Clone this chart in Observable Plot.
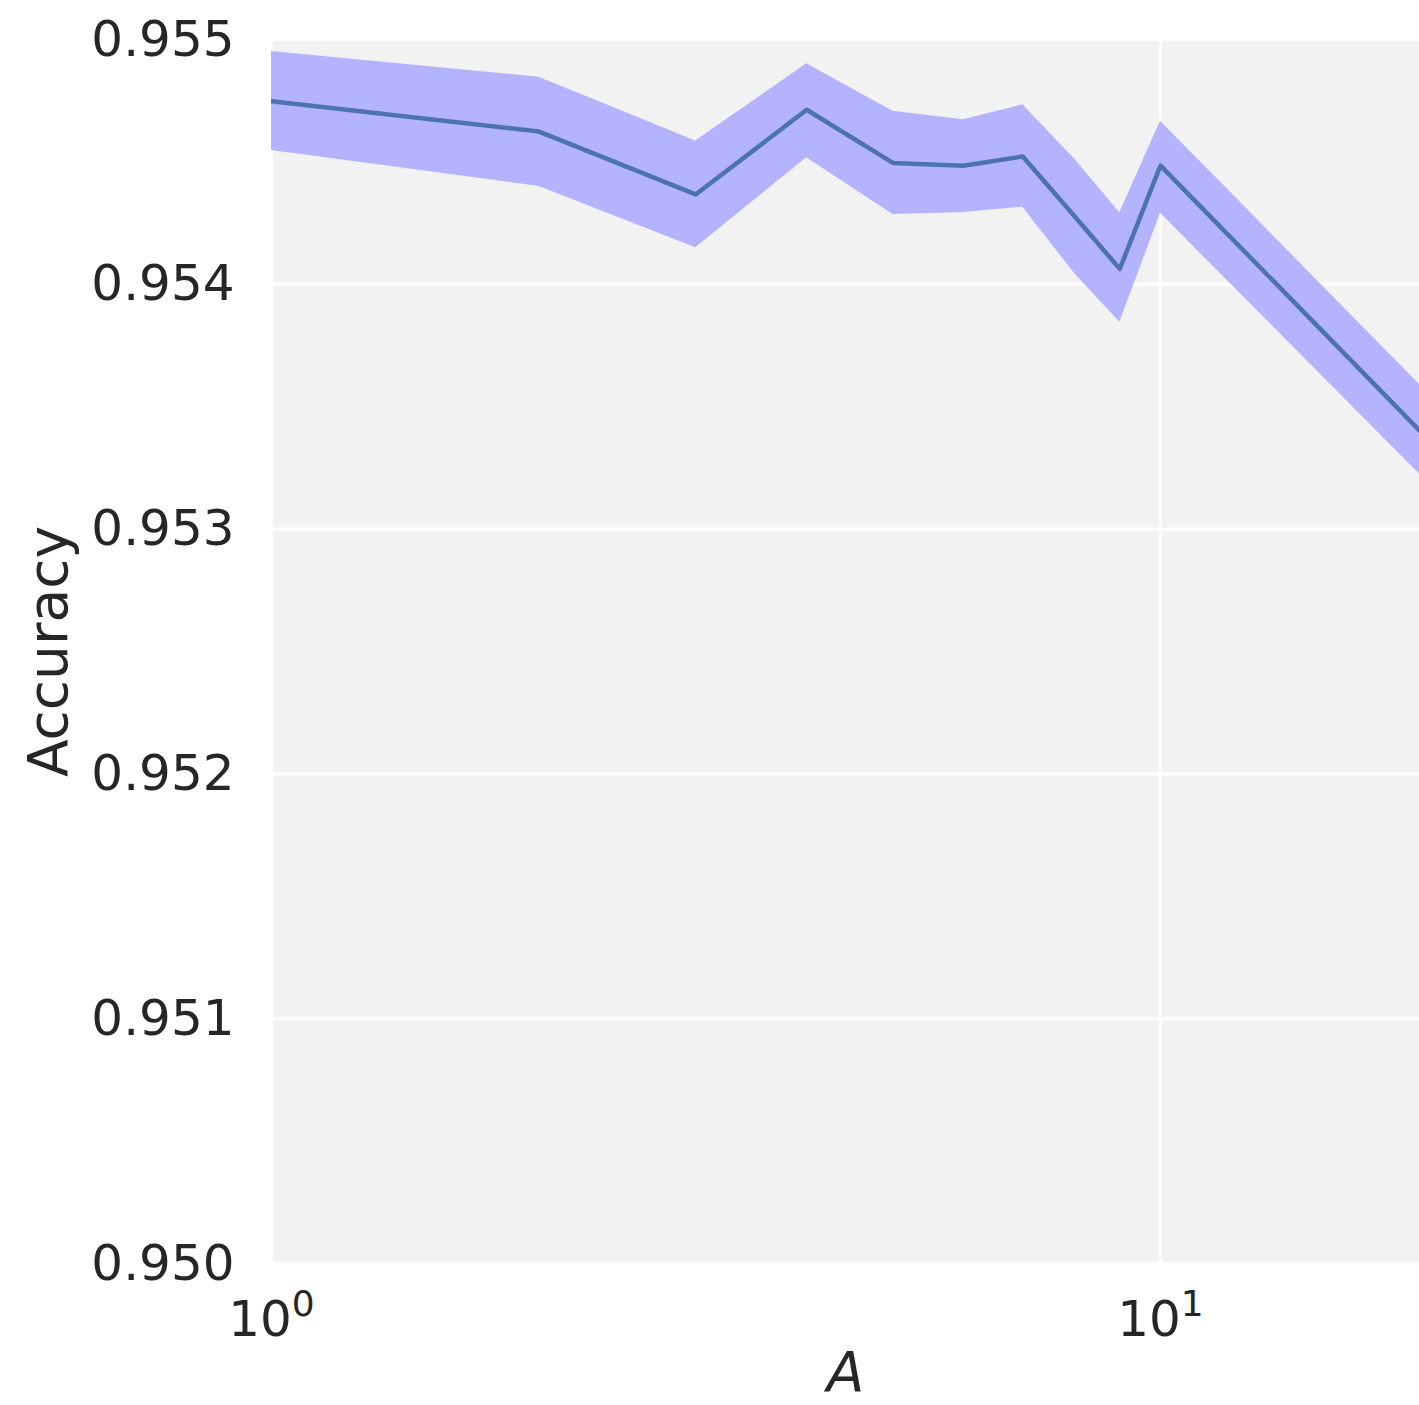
<!DOCTYPE html>
<html>
<head>
<meta charset="utf-8">
<script src="https://cdn.jsdelivr.net/npm/d3@7"></script>
<script src="https://cdn.jsdelivr.net/npm/@observablehq/plot@0.6"></script>
<style>
  html, body { margin: 0; padding: 0; background: white; }
  #chart svg { display: block; }
</style>
</head>
<body>
<div id="chart"></div>
<script>
// Accuracy as a function of A (mean with its confidence band)
const aValues  = [1, 2, 3, 4, 5, 6, 7, 8, 9, 10, 20];
const accuracy = [0.954748, 0.954624, 0.954367, 0.954713, 0.954496, 0.954484, 0.954522, 0.954279, 0.954063, 0.954485, 0.953367];
const upper    = [0.954951, 0.954846, 0.954585, 0.954901, 0.954707, 0.954672, 0.954733, 0.954513, 0.954292, 0.954666, 0.953555];
const lower    = [0.954547, 0.954400, 0.954149, 0.954517, 0.954285, 0.954293, 0.954315, 0.954045, 0.953845, 0.954290, 0.953190];

const xTicks = [1, 10];
const xTickLabels = ["10^0", "10^1"];
const yTicks = [0.950, 0.951, 0.952, 0.953, 0.954, 0.955];
const xDomain = [1, 19.56];
const yDomain = [0.950, 0.955];

const rows = aValues.map((a, i) => ({a, acc: accuracy[i], hi: upper[i], lo: lower[i]}));

const chart = Plot.plot({
  width: 1419,
  height: 1405,
  marginLeft: 271,
  marginRight: 0,
  marginTop: 39,
  marginBottom: 142,
  style: {fontFamily: "DejaVu Sans", fontSize: "50px", color: "#262626", background: "white"},
  x: {type: "log", domain: xDomain},
  y: {domain: yDomain},
  marks: [
    Plot.frame({fill: "#f2f2f2", stroke: "none"}),
    Plot.gridX(xTicks, {stroke: "white", strokeOpacity: 1, strokeWidth: 3}),
    Plot.gridY(yTicks, {stroke: "white", strokeOpacity: 1, strokeWidth: 3}),
    Plot.areaY(rows, {x: "a", y1: "lo", y2: "hi", fill: "#b3b3ff", clip: true}),
    Plot.lineY(rows, {x: "a", y: "acc", stroke: "#4c72b0", strokeWidth: 4.5, clip: true}),
    Plot.axisY({ticks: yTicks, tickFormat: d3.format(".3f"), tickSize: 0, tickPadding: 37,
      label: "Accuracy", labelAnchor: "center", labelArrow: "none", labelOffset: 244}),
    Plot.axisX({ticks: xTicks, tickFormat: (d) => xTickLabels[xTicks.indexOf(d)], tickSize: 0, tickPadding: 37,
      label: "A", labelAnchor: "center", labelArrow: "none", labelOffset: 127})
  ]
});

document.getElementById("chart").appendChild(chart);

// Power-of-ten tick labels with a raised exponent
d3.select(chart).selectAll('g[aria-label="x-axis tick label"] text').each(function() {
  const t = d3.select(this);
  const [base, exp] = t.text().split("^");
  t.text(null);
  t.append("tspan").text(base);
  t.append("tspan").attr("dy", "-20").attr("font-size", "36px").text(exp);
});

// Axis titles: slightly larger, x title in italic
d3.select(chart).selectAll('g[aria-label="x-axis label"] text, g[aria-label="y-axis label"] text')
  .attr("font-size", "55px");
d3.select(chart).selectAll('g[aria-label="x-axis label"] text').attr("font-style", "italic");
</script>
</body>
</html>
